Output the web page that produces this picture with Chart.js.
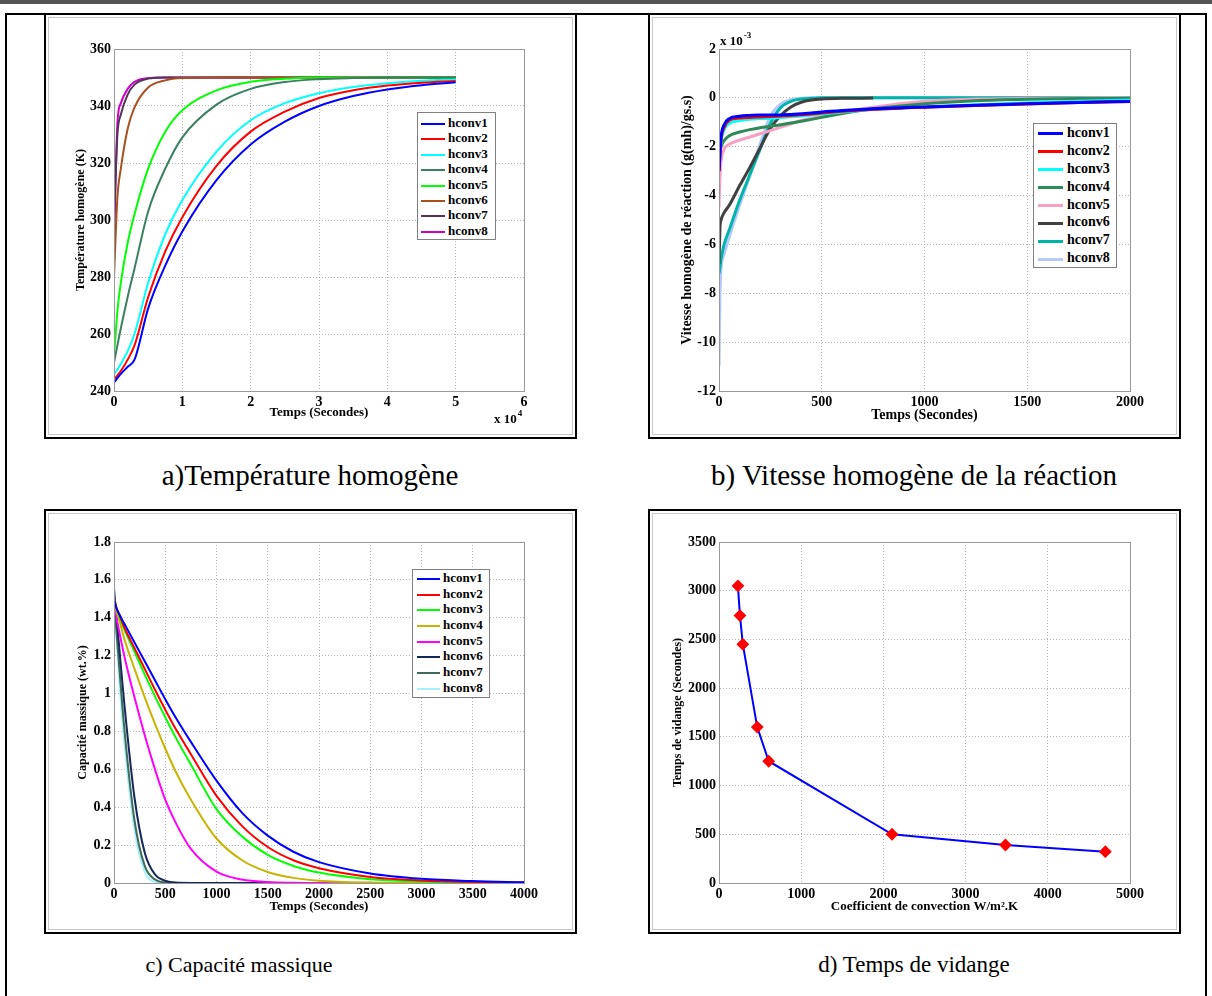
<!DOCTYPE html>
<html>
<head>
<meta charset="utf-8">
<script src="https://cdn.jsdelivr.net/npm/chart.js@4.4.1/dist/chart.umd.min.js"></script>
<style>
  body { margin: 0; background: #fff; }
  #page { position: relative; width: 1212px; height: 996px; overflow: hidden; font-family: "Liberation Serif", "Times New Roman", serif; }
  .rule { position: absolute; background: #000; }
  .box { position: absolute; box-sizing: border-box; border: 2px solid #000; box-shadow: inset 0 0 0 2px #fff, inset 0 0 0 3px #c8c8c8; }
  canvas { position: absolute; }
  .caption { position: absolute; font-size: 22px; white-space: nowrap; transform: translate(-50%, -50%); }
  .legend { position: absolute; box-sizing: border-box; border: 1px solid #808080; background: #fff; font-weight: bold; }
  .legend div { white-space: nowrap; }
  .legend span { display: inline-block; vertical-align: middle; }
</style>
</head>
<body>
<div id="page">
  <div class="rule" style="left:0;top:0;width:1212px;height:4px;background:#555"></div>
  <div class="rule" style="left:5px;top:13px;width:1202px;height:2px"></div>
  <div class="rule" style="left:5px;top:13px;width:2px;height:983px"></div>
  <div class="rule" style="left:1205px;top:13px;width:2px;height:983px"></div>

  <div class="box" style="left:44px;top:13px;width:533px;height:426px"></div>
  <div class="box" style="left:648px;top:13px;width:533px;height:426px"></div>
  <div class="box" style="left:44px;top:509px;width:533px;height:425px"></div>
  <div class="box" style="left:648px;top:509px;width:533px;height:425px"></div>

  <canvas id="chartA"></canvas>
  <canvas id="chartB"></canvas>
  <canvas id="chartC"></canvas>
  <canvas id="chartD"></canvas>

  <div class="legend" id="legendA" style="left:417px;top:112px;width:79px;height:128px;padding:2px 0 0 3px;font-size:13px"></div>
  <div class="legend" id="legendB" style="left:1033px;top:123px;width:84px;height:145px;padding:0 0 0 4px;font-size:14px"></div>
  <div class="legend" id="legendC" style="left:412px;top:569px;width:78px;height:129px;padding:0 0 0 4px;font-size:13px"></div>

  <div class="caption" style="left:310px;top:475px;font-size:29px">a)Température homogène</div>
  <div class="caption" style="left:914px;top:475px;font-size:29px">b) Vitesse homogène de la réaction</div>
  <div class="caption" style="left:239px;top:965px">c) Capacité massique</div>
  <div class="caption" style="left:914px;top:965px;font-size:23px">d) Temps de vidange</div>
</div>

<script>
// ---- data ----
var hconvLabels = ['hconv1', 'hconv2', 'hconv3', 'hconv4', 'hconv5', 'hconv6', 'hconv7', 'hconv8'];

// a) temperature (K) vs time (x 10^4 s)
var tempsA = [0, 0.05, 0.1, 0.2, 0.3, 0.5, 0.75, 1, 1.5, 2, 2.5, 3, 3.5, 4, 4.5, 5];
var temperatureA = [
  [243, 244.5, 246, 248.5, 251, 269, 284, 296, 314, 326.5, 334.5, 340, 343.5, 345.8, 347.3, 348.3],
  [244, 245.5, 247, 251, 256, 273, 289, 301, 319, 331, 338, 342.8, 345.5, 347.2, 348.2, 348.8],
  [246, 247.5, 249.5, 254, 260, 278, 295, 307, 324, 335, 341, 344.5, 346.7, 348, 348.9, 349.3],
  [250, 256, 262, 273, 283, 303, 318, 329, 340.5, 346, 348.4, 349.4, 349.8, 350, 350, 350],
  [252, 268, 278, 292, 302, 318, 331, 338.5, 345.5, 348.5, 349.6, 350, 350, 350, 350, 350],
  [280, 308, 318, 332, 339.5, 346.5, 349, 349.8, 350, 350, 350, 350, 350, 350, 350, 350],
  [300, 330, 337, 344, 347.5, 349.6, 350, 350, 350, 350, 350, 350, 350, 350, 350, 350],
  [290, 334, 341, 346, 348.5, 349.8, 350, 350, 350, 350, 350, 350, 350, 350, 350, 350]
];
var colorsA = ['#0000ff', '#ff0000', '#00ffff', '#3a8060', '#00ff00', '#a8501e', '#553355', '#cc00cc'];
var ticksAx = [0, 1, 2, 3, 4, 5, 6];
var ticksAy = [240, 260, 280, 300, 320, 340, 360];

// b) reaction rate (x 10^-3) vs time (s)
var tempsB = [0, 5, 10, 25, 50, 100, 150, 200, 250, 300, 350, 400, 450, 500, 600, 750, 1000, 1250, 1500, 1750, 2000];
var vitesseB = [
  [-3, -2.2, -1.6, -1.1, -0.85, -0.75, -0.72, -0.7, -0.7, -0.7, -0.68, -0.65, -0.62, -0.58, -0.52, -0.45, -0.37, -0.3, -0.24, -0.19, -0.15],
  [-3, -2.3, -1.7, -1.2, -0.92, -0.83, -0.8, -0.78, -0.76, -0.74, -0.72, -0.69, -0.66, -0.62, -0.55, -0.47, -0.38, -0.31, -0.25, -0.19, -0.15],
  [-2.8, -2.3, -1.8, -1.3, -1.05, -0.93, -0.88, -0.85, -0.83, -0.8, -0.77, -0.74, -0.7, -0.66, -0.58, -0.48, -0.37, -0.28, -0.2, -0.14, -0.1],
  [-2.6, -2.2, -2.0, -1.75, -1.55, -1.4, -1.3, -1.22, -1.16, -1.1, -1.03, -0.96, -0.88, -0.8, -0.64, -0.45, -0.24, -0.12, -0.06, -0.03, -0.02],
  [-4.5, -3.2, -2.6, -2.1, -1.9, -1.73, -1.6, -1.47, -1.34, -1.2, -1.06, -0.93, -0.84, -0.76, -0.58, -0.38, -0.14, -0.05, -0.02, -0.01, 0],
  [-6.8, -5.3, -5.0, -4.7, -4.4, -3.6, -2.85, -2.05, -1.25, -0.72, -0.37, -0.18, -0.09, -0.05, -0.02, -0.01, null, null, null, null, null],
  [-7.2, -6.9, -6.6, -6.0, -5.4, -4.2, -3.15, -2.1, -1.05, -0.4, -0.14, -0.05, -0.02, 0, 0, 0, 0, 0, 0, 0, 0],
  [-11, -8, -7, -6.4, -5.7, -4.4, -3.2, -1.9, -0.75, -0.25, -0.07, -0.02, 0, 0, 0, 0, 0, 0, 0, 0, 0]
];
var colorsB = ['#0000ff', '#ff0000', '#00ffff', '#2e8b57', '#f7a0c4', '#404040', '#00b5a8', '#b4c8ff'];
var ticksBx = [0, 500, 1000, 1500, 2000];
var ticksBy = [-12, -10, -8, -6, -4, -2, 0, 2];

// c) mass capacity (wt.%) vs time (s)
var tempsC = [0, 25, 50, 100, 200, 300, 400, 500, 600, 750, 1000, 1250, 1500, 1750, 2000, 2500, 3000, 3500, 4000];
var capaciteC = [
  [1.5, 1.45, 1.42, 1.37, 1.27, 1.17, 1.07, 0.97, 0.875, 0.745, 0.54, 0.37, 0.25, 0.165, 0.11, 0.05, 0.022, 0.01, 0.004],
  [1.5, 1.45, 1.42, 1.35, 1.24, 1.13, 1.02, 0.915, 0.815, 0.68, 0.46, 0.3, 0.19, 0.12, 0.078, 0.032, 0.013, 0.005, 0.002],
  [1.5, 1.45, 1.41, 1.34, 1.22, 1.1, 0.985, 0.875, 0.77, 0.625, 0.39, 0.245, 0.148, 0.09, 0.055, 0.02, 0.008, 0.003, 0],
  [1.5, 1.43, 1.39, 1.29, 1.13, 0.98, 0.84, 0.71, 0.59, 0.44, 0.235, 0.12, 0.058, 0.027, 0.012, 0.002, 0, 0, 0],
  [1.5, 1.4, 1.33, 1.2, 0.98, 0.78, 0.6, 0.44, 0.32, 0.18, 0.06, 0.018, 0.005, 0.001, 0, 0, 0, 0, 0],
  [1.55, 1.4, 1.25, 0.95, 0.45, 0.16, 0.045, 0.012, 0.002, 0, 0, 0, 0, 0, 0, 0, 0, 0, 0],
  [1.5, 1.32, 1.15, 0.82, 0.33, 0.09, 0.018, 0.003, 0, 0, 0, 0, 0, 0, 0, 0, 0, 0, 0],
  [1.6, 1.3, 1.08, 0.75, 0.28, 0.06, 0.006, 0, 0, 0, 0, 0, 0, 0, 0, 0, 0, 0, 0]
];
var colorsC = ['#0000ff', '#ff0000', '#00ff00', '#c8b400', '#ff00ff', '#14285a', '#3f6b58', '#a8f0ff'];
var ticksCx = [0, 500, 1000, 1500, 2000, 2500, 3000, 3500, 4000];
var ticksCy = [0, 0.2, 0.4, 0.6, 0.8, 1, 1.2, 1.4, 1.6, 1.8];

// d) emptying time vs convection coefficient
var coefConvection = [230, 255, 290, 465, 605, 2105, 3485, 4700];
var tempsVidange = [3050, 2745, 2450, 1600, 1250, 500, 390, 322];
var ticksDx = [0, 1000, 2000, 3000, 4000, 5000];
var ticksDy = [0, 500, 1000, 1500, 2000, 2500, 3000, 3500];

// ---- helpers ----
var serif = '"Liberation Serif", "Times New Roman", serif';

function toPoints(xs, ys) {
  return xs.map(function (x, i) { return { x: x, y: ys[i] }; });
}

function curveSets(xs, series, colors, width) {
  return series.map(function (ys, i) {
    return {
      label: hconvLabels[i],
      data: toPoints(xs, ys),
      borderColor: colors[i],
      borderWidth: width,
      pointRadius: 0,
      cubicInterpolationMode: 'monotone',
      spanGaps: false
    };
  });
}

function buildLegend(id, colors, rowH, swW, swH, gap) {
  var el = document.getElementById(id);
  hconvLabels.forEach(function (lab, i) {
    var row = document.createElement('div');
    row.style.height = rowH + 'px';
    row.style.lineHeight = rowH + 'px';
    var sw = document.createElement('span');
    sw.style.width = swW + 'px';
    sw.style.height = swH + 'px';
    sw.style.background = colors[i];
    sw.style.marginRight = gap + 'px';
    row.appendChild(sw);
    row.appendChild(document.createTextNode(lab));
    el.appendChild(row);
  });
}

function fmt(v) { return String(Math.round(v * 10) / 10); }

function axis(min, max, tickList, title, titleSize, titlePad, fitFn) {
  return {
    type: 'linear', min: min, max: max,
    afterFit: fitFn,
    afterBuildTicks: function (s) { s.ticks = tickList.map(function (v) { return { value: v }; }); },
    ticks: { color: '#000', font: { family: serif, size: 14, weight: 'bold' }, padding: 3,
             maxRotation: 0, autoSkip: false, callback: fmt },
    grid: { color: '#b4b4b4', drawTicks: false, lineWidth: 1 },
    border: { color: '#999', dash: [1, 2] },
    title: { display: true, text: title, color: '#000', padding: titlePad,
             font: { family: serif, size: titleSize, weight: 'bold' } }
  };
}

// g: canvas box and plot area in page px, title centres
function buildChart(id, g, datasets, xt, yt, extra) {
  var cv = document.getElementById(id);
  cv.width = g.w; cv.height = g.h;
  cv.style.left = g.x + 'px';
  cv.style.top = g.y + 'px';
  var left = g.plot[0] - g.x, top = g.plot[1] - g.y, right = g.plot[2] - g.x, bottom = g.plot[3] - g.y;
  var xPad = { bottom: g.h - (g.xTitle - g.y) - xt.size * 0.6 };
  var yPad = { top: (g.yTitle - g.x) - yt.size * 0.6 };
  return new Chart(cv.getContext('2d'), {
    type: 'line',
    data: { datasets: datasets },
    options: {
      responsive: false, animation: false, devicePixelRatio: 1,
      layout: { padding: { left: 0, top: top, right: g.w - right, bottom: 0 } },
      plugins: { legend: { display: false }, tooltip: { enabled: false } },
      scales: {
        x: axis(xt.min, xt.max, xt.ticks, xt.title, xt.size, xPad, function (s) { s.height = g.h - bottom; }),
        y: axis(yt.min, yt.max, yt.ticks, yt.title, yt.size, yPad, function (s) { s.width = left; })
      }
    },
    plugins: [{
      id: 'frame',
      afterDraw: function (c) {
        var a = c.chartArea, ctx = c.ctx;
        ctx.save();
        ctx.strokeStyle = '#999';
        ctx.lineWidth = 1;
        ctx.strokeRect(Math.round(a.left) + 0.5, Math.round(a.top) + 0.5,
                       Math.round(a.right - a.left), Math.round(a.bottom - a.top));
        if (extra) extra(ctx, g);
        ctx.restore();
      }
    }]
  });
}

function multiplier(ctx, x, y, exp) {
  ctx.fillStyle = '#000';
  ctx.textBaseline = 'alphabetic';
  ctx.textAlign = 'left';
  ctx.font = 'bold 13px ' + serif;
  ctx.fillText('x 10', x, y);
  var w = ctx.measureText('x 10').width;
  ctx.font = 'bold 9px ' + serif;
  ctx.fillText(exp, x + w + 1, y - 7);
}

// ---- charts ----
buildChart('chartA',
  { x: 46, y: 15, w: 529, h: 422, plot: [114, 49, 524, 391], xTitle: 413, yTitle: 81 },
  curveSets(tempsA, temperatureA, colorsA, 2),
  { min: 0, max: 6, ticks: ticksAx, title: 'Temps (Secondes)', size: 13 },
  { min: 240, max: 360, ticks: ticksAy, title: 'Température homogène (K)', size: 12 },
  function (ctx, g) { multiplier(ctx, 494 - g.x, 423 - g.y, '4'); });

buildChart('chartB',
  { x: 651, y: 15, w: 529, h: 422, plot: [719, 49, 1130, 391], xTitle: 415, yTitle: 687 },
  curveSets(tempsB, vitesseB, colorsB, 3),
  { min: 0, max: 2000, ticks: ticksBx, title: 'Temps (Secondes)', size: 14 },
  { min: -12, max: 2, ticks: ticksBy, title: 'Vitesse homogène de réaction (g(mh)/gs.s)', size: 14 },
  function (ctx, g) { multiplier(ctx, 720 - g.x, 45 - g.y, '-3'); });

buildChart('chartC',
  { x: 46, y: 511, w: 529, h: 421, plot: [114, 542, 524, 883], xTitle: 907, yTitle: 83 },
  curveSets(tempsC, capaciteC, colorsC, 2),
  { min: 0, max: 4000, ticks: ticksCx, title: 'Temps (Secondes)', size: 13 },
  { min: 0, max: 1.8, ticks: ticksCy, title: 'Capacité massique (wt.%)', size: 12 });

buildChart('chartD',
  { x: 651, y: 511, w: 529, h: 421, plot: [719, 542, 1130, 883], xTitle: 907, yTitle: 678 },
  [{
    label: 'Temps de vidange',
    data: toPoints(coefConvection, tempsVidange),
    borderColor: '#0000ff',
    borderWidth: 2,
    pointStyle: 'rectRot',
    pointRadius: 5,
    pointBackgroundColor: '#ff0000',
    pointBorderColor: '#ff0000',
    tension: 0
  }],
  { min: 0, max: 5000, ticks: ticksDx, title: 'Coefficient de convection W/m².K', size: 13 },
  { min: 0, max: 3500, ticks: ticksDy, title: 'Temps de vidange (Secondes)', size: 12 });

buildLegend('legendA', colorsA, 15.4, 24, 2, 3);
buildLegend('legendB', colorsB, 17.9, 25, 3, 4);
buildLegend('legendC', colorsC, 15.7, 23, 2, 3);
</script>
</body>
</html>
